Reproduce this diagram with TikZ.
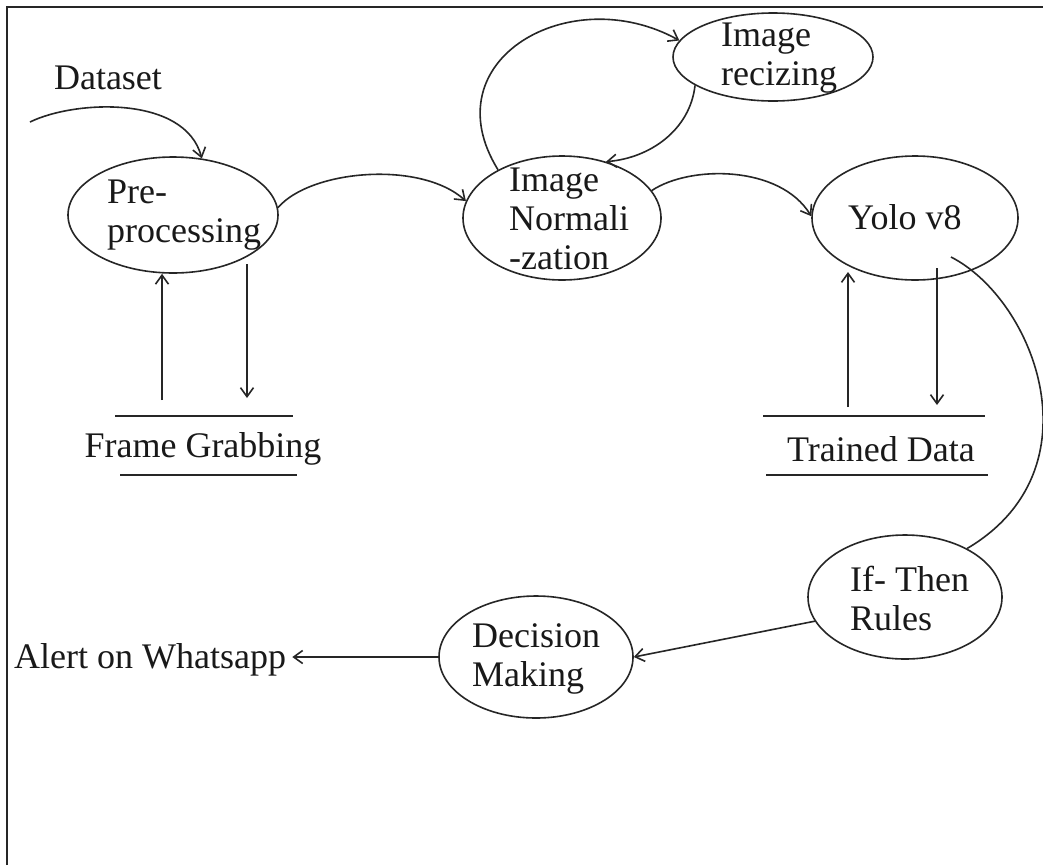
\documentclass[tikz,border=0pt]{standalone}
\usepackage{fontspec}
\setmainfont{Liberation Serif}
\usetikzlibrary{shapes.geometric,arrows.meta}
\begin{document}
\begin{tikzpicture}[x=1pt,y=-1pt,
  ell/.style={draw=black!85, ellipse, inner sep=0pt, line width=1.6pt},
  txt/.style={font=\fontsize{36}{39}\selectfont, align=left, inner sep=0pt, text=black!90},
  conn/.style={draw=black!85, line width=1.6pt, -{Straight Barb[length=9pt,width=13pt]}},
  lineonly/.style={draw=black!85, line width=1.6pt},
  frameline/.style={draw=black!85, line width=2pt},
]
\useasboundingbox (0,0) rectangle (1043,865);
\fill[white] (0,0) rectangle (1043,865);
% frame (top and left only)
\draw[frameline] (7,865) -- (7,7) -- (1043,7);

% ellipses
\node[ell, minimum width=210pt, minimum height=116pt] (pre) at (173,215) {};
\node[ell, minimum width=198pt, minimum height=124pt] (norm) at (562,218) {};
\node[ell, minimum width=200pt, minimum height=88pt] (rec) at (773,57) {};
\node[ell, minimum width=206pt, minimum height=124pt] (yolo) at (915,218) {};
\node[ell, minimum width=194pt, minimum height=124pt] (ifr) at (905,597) {};
\node[ell, minimum width=194pt, minimum height=122pt] (dec) at (536,657) {};

% texts
\node[txt] (dataset) at (108,78) {Dataset};
\node[txt, anchor=west] (pretxt) at (107,215) {Pre-\\processing};
\node[txt, anchor=west] (normtxt) at (509,219) {Image\\Normali\\-zation};
\node[txt, anchor=west] (rectxt) at (721,58) {Image\\recizing};
\node[txt, anchor=west] (yolotxt) at (848,217) {Yolo v8};
\node[txt, anchor=west] (iftxt) at (850,598) {If- Then\\Rules};
\node[txt, anchor=west] (dectxt) at (472,659) {Decision\\Making};
\node[txt] (fg) at (203,449) {Frame Grabbing};
\node[txt] (td) at (881,449) {Trained Data};
\node[txt, anchor=west, inner xsep=0pt] (alert) at (14,660) {Alert on Whatsapp};

% data store lines
\draw[lineonly] (115,416) -- (293,416);
\draw[lineonly] (120,475) -- (297,475);
\draw[lineonly] (763,416) -- (985,416);
\draw[lineonly] (766,475) -- (988,475);

% free ends
\coordinate (ds0) at (30,122);
\coordinate (fgup) at (162,400);
\coordinate (fgdn0) at (247,264);
\coordinate (fgdn1) at (247,398);
\coordinate (tdup) at (848,407);
\coordinate (tdupend) at (848,272);
\coordinate (tddn0) at (937,268);
\coordinate (tddn1) at (937,405);
\coordinate (yolo0) at (951,257);

% connectors
\draw[conn] (ds0) .. controls (75,100) and (185,95) .. (pre.63);
\draw[conn] (fgup) -- (pre.south -| fgup);
\draw[conn] (fgdn0) -- (fgdn1);
\draw[conn] (pre.4) .. controls (310,170) and (420,160) .. (norm.170);
\draw[conn] (norm.143) .. controls (430,60) and (570,-20) .. (rec.170);
\draw[conn] (rec.200) .. controls (690,130) and (650,158) .. (norm.52);
\draw[conn] (norm.17) .. controls (690,165) and (780,165) .. (yolo.179);
\draw[conn] (tdup) -- (tdupend);
\draw[conn] (tddn0) -- (tddn1);
\draw[lineonly] (yolo0) .. controls (1035,300) and (1100,470) .. (ifr.38);
\draw[conn] (ifr.195) -- (dec.0);
\draw[conn] (dec.180) -- ([xshift=6pt]alert.east |- dec.180);
\end{tikzpicture}
\end{document}
